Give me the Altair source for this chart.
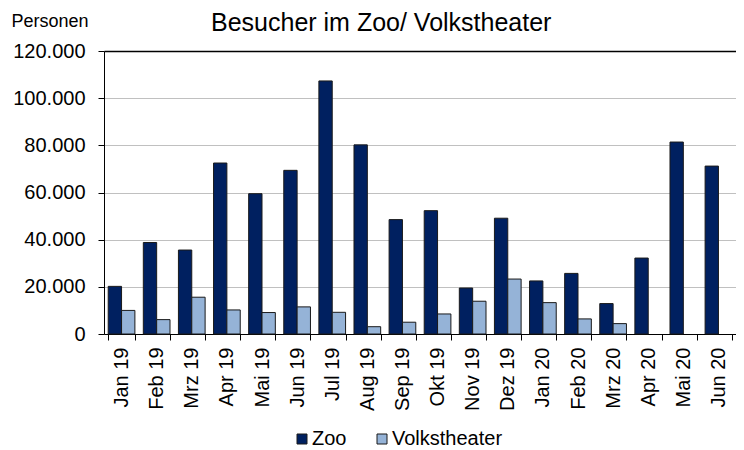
import altair as alt
import pandas as pd

months = ["Jan 19", "Feb 19", "Mrz 19", "Apr 19", "Mai 19", "Jun 19", "Jul 19", "Aug 19",
          "Sep 19", "Okt 19", "Nov 19", "Dez 19", "Jan 20", "Feb 20", "Mrz 20", "Apr 20",
          "Mai 20", "Jun 20"]
zoo = [20200, 38800, 35600, 72500, 59500, 69400, 107300, 80200, 48500, 52300, 19500,
       49100, 22500, 25700, 12900, 32200, 81400, 71200]
volks = [10000, 6100, 15600, 10200, 9100, 11500, 9200, 3100, 5000, 8500, 13900,
         23300, 13300, 6400, 4400, None, None, None]
series = ["Zoo", "Volkstheater"]
colors = ["#002060", "#95B3D7"]
y_ticks = [0, 20000, 40000, 60000, 80000, 100000, 120000]

rows = []
for m, z, v in zip(months, zoo, volks):
    rows.append({"Monat": m, "Serie": "Zoo", "Besucher": z})
    if v is not None:
        rows.append({"Monat": m, "Serie": "Volkstheater", "Besucher": v})
df = pd.DataFrame(rows)

FONT = "Liberation Sans"

chart = alt.Chart(df).mark_bar(stroke="#1a1a1a", strokeWidth=1).encode(
    x=alt.X("Monat:N", sort=months,
            scale=alt.Scale(paddingInner=0.24, paddingOuter=0.12),
            axis=alt.Axis(title=None, labelAngle=270, labelFontSize=20, labelColor="black",
                          tickSize=6, tickColor="black", domainColor="black",
                          labelPadding=7, tickBand="extent", grid=False,
                          labelOverlap=False)),
    xOffset=alt.XOffset("Serie:N", sort=series,
                        scale=alt.Scale(domain=series, paddingInner=0, paddingOuter=0)),
    y=alt.Y("Besucher:Q", scale=alt.Scale(domain=[0, 120000], nice=False),
            axis=alt.Axis(values=y_ticks,
                          labelExpr="replace(format(datum.value, ','), ',', '.')",
                          title="Personen", titleAngle=0, titleAlign="left",
                          titleBaseline="alphabetic", titleX=-93, titleY=-25,
                          titleFontSize=18, titleFontWeight="normal", titleColor="black",
                          labelFontSize=20, labelColor="black", tickSize=6,
                          tickColor="black", domainColor="black", labelPadding=13,
                          gridColor=alt.condition("datum.value == 120000",
                                                  alt.value("black"), alt.value("#C0C0C0")),
                          gridWidth=alt.condition("datum.value == 120000",
                                                  alt.value(1.5), alt.value(1)))),
    color=alt.Color("Serie:N", sort=series,
                    scale=alt.Scale(domain=series, range=colors),
                    legend=alt.Legend(title=None, orient="none", direction="horizontal",
                                      legendX=188, legendY=378, labelFontSize=20,
                                      labelColor="black", symbolType="square",
                                      symbolSize=100, symbolStrokeColor="#1a1a1a",
                                      symbolStrokeWidth=1, columnPadding=25,
                                      labelOffset=0)),
).properties(
    width=632,
    height=283,
    autosize=alt.AutoSizeParams(type="none"),
    padding={"left": 96, "top": 43, "right": 0, "bottom": 114},
    title=alt.TitleParams("Besucher im Zoo/ Volkstheater", fontSize=25, fontWeight="normal",
                          color="black", anchor="start", frame="group", dx=107,
                          baseline="alphabetic", offset=0, dy=44, font=FONT),
).configure(font=FONT).configure_view(stroke=None)

chart.save("out.html", embed_options={"renderer": "svg", "actions": False})
